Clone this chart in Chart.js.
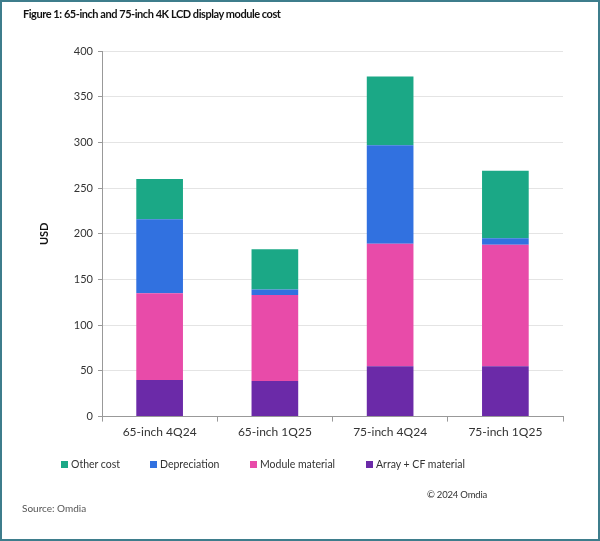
<!DOCTYPE html>
<html><head><meta charset="utf-8">
<script src="https://cdn.jsdelivr.net/npm/chart.js@4/dist/chart.umd.min.js"></script>
<style>
html,body{margin:0;padding:0;background:#fff;}
#wrap{position:relative;width:600px;height:541px;overflow:hidden;font-family:Lato,'Open Sans',sans-serif;background:#fff;}
#c{position:absolute;left:0;top:0;}
#frame{position:absolute;left:0;top:0;width:600px;height:541px;box-sizing:border-box;border:2px solid #3e7d8c;pointer-events:none;}
#title{position:absolute;left:23px;top:7px;font-weight:bold;font-size:11px;color:#111;white-space:nowrap;letter-spacing:-0.45px;}
#legend{position:absolute;top:458px;left:0;width:600px;height:16px;font-size:10.5px;color:#333;white-space:nowrap;}
#legend .it{position:absolute;top:0;display:flex;align-items:center;}
#legend .bx{width:7px;height:7px;margin-right:3px;}
#copy{position:absolute;right:113px;top:489px;font-size:9.5px;color:#333;white-space:nowrap;letter-spacing:-0.2px;}
#src{position:absolute;left:22px;top:502px;font-size:10px;color:#555;white-space:nowrap;}
</style></head>
<body>
<div id="wrap">
<canvas id="c" width="600" height="541"></canvas>
<div id="title">Figure 1: 65-inch and 75-inch 4K LCD display module cost</div>
<div id="legend"></div>
<div id="copy">© 2024 Omdia</div>
<div id="src">Source: Omdia</div>
<div id="frame"></div>
</div>
<script>
const categories = ['65-inch 4Q24', '65-inch 1Q25', '75-inch 4Q24', '75-inch 1Q25'];
const arrayCF = [40, 39, 55, 55];
const moduleMaterial = [95, 94, 134, 133];
const depreciation = [81, 6, 108, 7];
const otherCost = [44, 44, 75, 74];
const yTicks = [0, 50, 100, 150, 200, 250, 300, 350, 400];

const colors = {
  arrayCF: '#6b2aa8',
  module: '#e84ba9',
  dep: '#3171e0',
  other: '#1ba886'
};

const datasets = [
  {label: 'Array + CF material', data: arrayCF, backgroundColor: colors.arrayCF},
  {label: 'Module material', data: moduleMaterial, backgroundColor: colors.module},
  {label: 'Depreciation', data: depreciation, backgroundColor: colors.dep},
  {label: 'Other cost', data: otherCost, backgroundColor: colors.other}
];

const FONT = 'Lato';
const chart = new Chart(document.getElementById('c'), {
  type: 'bar',
  data: {labels: categories, datasets: datasets.map(d => Object.assign({barPercentage: 0.405, categoryPercentage: 1, borderWidth: 0}, d))},
  options: {
    responsive: false,
    animation: false,
    devicePixelRatio: 1,
    layout: {padding: {left: 30, top: 51, right: 37, bottom: 99}},
    plugins: {legend: {display: false}, tooltip: {enabled: false}},
    scales: {
      x: {
        stacked: true,
        grid: {display: true, drawOnChartArea: false, drawTicks: true, tickLength: 5, tickColor: '#999', offset: true},
        border: {display: true, color: '#999', width: 1},
        ticks: {color: '#333', font: {family: FONT, size: 12}, padding: 3, maxRotation: 0}
      },
      y: {
        stacked: true,
        min: 0, max: 400,
        afterBuildTicks: (s) => { s.ticks = yTicks.map(v => ({value: v})); },
        afterFit: (s) => { s.width = 72; },
        grid: {color: '#e4e4e4', tickColor: '#999', tickLength: 4},
        border: {display: true, color: '#999', width: 1},
        ticks: {color: '#333', font: {family: FONT, size: 11}, padding: 5},
        title: {display: true, text: 'USD', color: '#111', font: {family: FONT, size: 11, weight: 'bold'}, padding: {top: 8, bottom: 0}}
      }
    }
  }
});

const legendX = [61, 150, 250, 366];
const lg = document.getElementById('legend');
chart.data.datasets.slice().reverse().forEach((d, i) => {
  const it = document.createElement('div'); it.className = 'it'; it.style.left = legendX[i] + 'px';
  const bx = document.createElement('span'); bx.className = 'bx'; bx.style.background = d.backgroundColor;
  const tx = document.createElement('span'); tx.textContent = d.label;
  it.appendChild(bx); it.appendChild(tx); lg.appendChild(it);
});
</script>
</body></html>
